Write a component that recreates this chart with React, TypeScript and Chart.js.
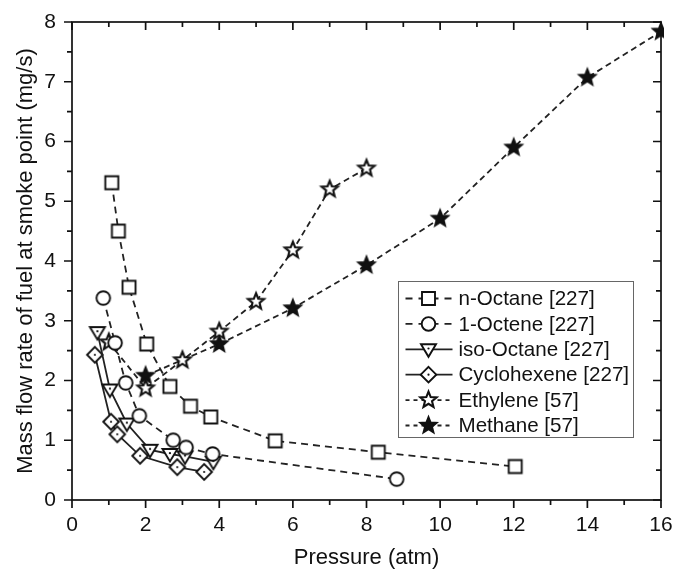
import React, { useEffect, useRef } from "react";
import { Chart, registerables } from "chart.js";

Chart.register(...registerables);

// ---- data ----
const nOctaneX = [1.08, 1.26, 1.55, 2.03, 2.66, 3.22, 3.77, 5.52, 8.32, 12.04];
const nOctaneY = [5.31, 4.5, 3.56, 2.61, 1.9, 1.57, 1.39, 0.99, 0.8, 0.56];
const octeneX = [0.85, 1.17, 1.46, 1.83, 2.75, 3.1, 3.82, 8.82];
const octeneY = [3.38, 2.63, 1.96, 1.41, 1.0, 0.88, 0.77, 0.35];
const isoOctaneX = [0.69, 1.03, 1.49, 2.12, 2.66, 3.07, 3.84];
const isoOctaneY = [2.81, 1.85, 1.28, 0.84, 0.77, 0.73, 0.64];
const cycloX = [0.62, 1.06, 1.23, 1.85, 2.86, 3.59];
const cycloY = [2.43, 1.31, 1.1, 0.74, 0.55, 0.47];
const ethyleneX = [1, 2, 3, 4, 5, 6, 7, 8];
const ethyleneY = [2.64, 1.87, 2.34, 2.82, 3.32, 4.18, 5.2, 5.55];
const methaneX = [2, 4, 6, 8, 10, 12, 14, 16];
const methaneY = [2.08, 2.61, 3.21, 3.93, 4.71, 5.9, 7.07, 7.84];

const seriesNames = [
  "n-Octane [227]",
  "1-Octene [227]",
  "iso-Octane [227]",
  "Cyclohexene [227]",
  "Ethylene [57]",
  "Methane [57]",
];
const xTicks = [0, 2, 4, 6, 8, 10, 12, 14, 16];
const yTicks = [0, 1, 2, 3, 4, 5, 6, 7, 8];

const FONT = "'Liberation Sans', Arial, sans-serif";

type Kind = "square" | "circle" | "triDown" | "diamond" | "starOpen" | "starFilled";

function drawMarker(ctx: CanvasRenderingContext2D, kind: Kind, cx: number, cy: number) {
  ctx.save();
  ctx.setLineDash([]);
  ctx.lineWidth = 1.9;
  ctx.strokeStyle = "#111";
  ctx.fillStyle = "#fff";
  ctx.lineJoin = "miter";
  ctx.beginPath();
  if (kind === "square") {
    ctx.rect(cx - 6.5, cy - 6.5, 13, 13);
    ctx.fill();
    ctx.stroke();
  } else if (kind === "circle") {
    ctx.arc(cx, cy, 6.8, 0, Math.PI * 2);
    ctx.fill();
    ctx.stroke();
  } else if (kind === "triDown") {
    ctx.moveTo(cx - 7.5, cy - 5);
    ctx.lineTo(cx + 7.5, cy - 5);
    ctx.lineTo(cx, cy + 7.5);
    ctx.closePath();
    ctx.fill();
    ctx.stroke();
    ctx.beginPath();
    ctx.fillStyle = "#111";
    ctx.arc(cx, cy - 0.8, 1.1, 0, Math.PI * 2);
    ctx.fill();
  } else if (kind === "diamond") {
    ctx.moveTo(cx, cy - 7.8);
    ctx.lineTo(cx + 7.8, cy);
    ctx.lineTo(cx, cy + 7.8);
    ctx.lineTo(cx - 7.8, cy);
    ctx.closePath();
    ctx.fill();
    ctx.stroke();
    ctx.beginPath();
    ctx.fillStyle = "#111";
    ctx.arc(cx, cy, 1.1, 0, Math.PI * 2);
    ctx.fill();
  } else {
    const R = 8.5;
    const r = 3.7;
    for (let i = 0; i < 10; i++) {
      const a = -Math.PI / 2 + (i * Math.PI) / 5;
      const rad = i % 2 === 0 ? R : r;
      const px = cx + rad * Math.cos(a);
      const py = cy + rad * Math.sin(a);
      if (i === 0) ctx.moveTo(px, py);
      else ctx.lineTo(px, py);
    }
    ctx.closePath();
    if (kind === "starFilled") {
      ctx.fillStyle = "#111";
      ctx.fill();
      ctx.stroke();
    } else {
      ctx.lineWidth = 2.1;
      ctx.fill();
      ctx.stroke();
    }
  }
  ctx.restore();
}

function makeMarker(kind: Kind): HTMLCanvasElement {
  const c = document.createElement("canvas");
  c.width = 24;
  c.height = 24;
  const ctx = c.getContext("2d")!;
  drawMarker(ctx, kind, 12, 12);
  return c;
}

const kinds: Kind[] = ["square", "circle", "triDown", "diamond", "starOpen", "starFilled"];
const dashes: number[][] = [[7, 5], [7, 5], [], [], [6, 4], [6, 4]];
const legendDashes: number[][] = [[7, 6], [7, 6], [], [], [4, 4], [4, 4]];

function toPoints(xs: number[], ys: number[]) {
  return xs.map((x, i) => ({ x, y: ys[i] }));
}

function zeroPadding(s: any) {
  s.paddingLeft = 0;
  s.paddingRight = 0;
  s.paddingTop = 0;
  s.paddingBottom = 0;
}

export default function App() {
  const ref = useRef<HTMLCanvasElement | null>(null);

  useEffect(() => {
    document.body.style.margin = "0";
    const canvas = ref.current;
    if (!canvas) return;

    const allX = [nOctaneX, octeneX, isoOctaneX, cycloX, ethyleneX, methaneX];
    const allY = [nOctaneY, octeneY, isoOctaneY, cycloY, ethyleneY, methaneY];

    const datasets = seriesNames.map((name, i) => ({
      label: name,
      data: toPoints(allX[i], allY[i]),
      showLine: true,
      borderColor: "#222",
      borderWidth: 1.8,
      borderDash: dashes[i],
      pointStyle: makeMarker(kinds[i]) as any,
      pointRadius: 8,
      backgroundColor: "#fff",
      tension: 0,
      clip: i === 5 ? { left: 10, top: 10, right: 3, bottom: 10 } : 12,
    }));

    const framePlugin = {
      id: "frame",
      afterDatasetsDraw(chart: any) {
        const { ctx, chartArea: a, scales } = chart;
        const xs = scales.x;
        const ys = scales.y;
        ctx.save();
        ctx.strokeStyle = "#111";
        ctx.lineWidth = 1.7;
        ctx.setLineDash([]);
        ctx.strokeRect(a.left, a.top, a.right - a.left, a.bottom - a.top);
        ctx.beginPath();
        for (let v = 0; v <= 16; v += 1) {
          const px = xs.getPixelForValue(v);
          const len = v % 2 === 0 ? 8 : 5;
          ctx.moveTo(px, a.bottom);
          ctx.lineTo(px, a.bottom + len);
          ctx.moveTo(px, a.top);
          ctx.lineTo(px, a.top + len);
        }
        for (let v = 0; v <= 8; v += 0.5) {
          const py = ys.getPixelForValue(v);
          const len = Number.isInteger(v) ? 8 : 5;
          ctx.moveTo(a.left, py);
          ctx.lineTo(a.left - len, py);
          ctx.moveTo(a.right, py);
          ctx.lineTo(a.right - len, py);
        }
        ctx.stroke();

        // legend
        const bx = a.left + 326.5;
        const by = a.top + 259.5;
        const bw = 235;
        const bh = 156;
        ctx.fillStyle = "#fff";
        ctx.fillRect(bx, by, bw, bh);
        ctx.strokeStyle = "#666";
        ctx.lineWidth = 1;
        ctx.strokeRect(bx, by, bw, bh);
        ctx.font = `20.6px ${FONT}`;
        ctx.textBaseline = "middle";
        ctx.textAlign = "left";
        seriesNames.forEach((name, i) => {
          const y = by + 17 + i * 25.4;
          ctx.save();
          ctx.strokeStyle = "#222";
          ctx.lineWidth = 1.8;
          ctx.setLineDash(legendDashes[i]);
          ctx.beginPath();
          ctx.moveTo(bx + 7, y);
          ctx.lineTo(bx + 54, y);
          ctx.stroke();
          ctx.restore();
          drawMarker(ctx, kinds[i], bx + 30, y);
          ctx.fillStyle = "#111";
          ctx.fillText(name, bx + 60, y + 1);
        });
        ctx.restore();
      },
    };

    const chart = new Chart(canvas, {
      type: "scatter",
      data: { datasets: datasets as any },
      options: {
        animation: false,
        responsive: false,
        maintainAspectRatio: false,
        layout: { autoPadding: false, padding: { left: 0, right: 13, top: 22, bottom: 0 } },
        plugins: { legend: { display: false }, tooltip: { enabled: false } },
        scales: {
          x: {
            type: "linear",
            min: 0,
            max: 16,
            afterBuildTicks: (s: any) => {
              s.ticks = xTicks.map((v) => ({ value: v }));
            },
            afterFit: (s: any) => {
              s.height = 72;
              zeroPadding(s);
            },
            grid: { display: false, drawTicks: false },
            border: { display: false },
            ticks: {
              font: { family: FONT, size: 21 },
              color: "#111",
              padding: 13,
              maxRotation: 0,
              autoSkip: false,
            },
            title: {
              display: true,
              text: "Pressure (atm)",
              font: { family: FONT, size: 22 },
              color: "#111",
              padding: { top: 0, bottom: 1 },
            },
          },
          y: {
            type: "linear",
            min: 0,
            max: 8,
            afterBuildTicks: (s: any) => {
              s.ticks = yTicks.map((v) => ({ value: v }));
            },
            afterFit: (s: any) => {
              s.width = 72;
              zeroPadding(s);
            },
            grid: { display: false, drawTicks: false },
            border: { display: false },
            ticks: {
              font: { family: FONT, size: 21 },
              color: "#111",
              padding: 16,
              autoSkip: false,
            },
            title: {
              display: true,
              text: "Mass flow rate of fuel at smoke point (mg/s)",
              font: { family: FONT, size: 22 },
              color: "#111",
              padding: { top: 13, bottom: 0 },
            },
          },
        },
      },
      plugins: [framePlugin],
    });

    return () => chart.destroy();
  }, []);

  return (
    <div style={{ width: 674, height: 572, background: "#fff" }}>
      <canvas ref={ref} width={674} height={572} style={{ display: "block" }} />
    </div>
  );
}
